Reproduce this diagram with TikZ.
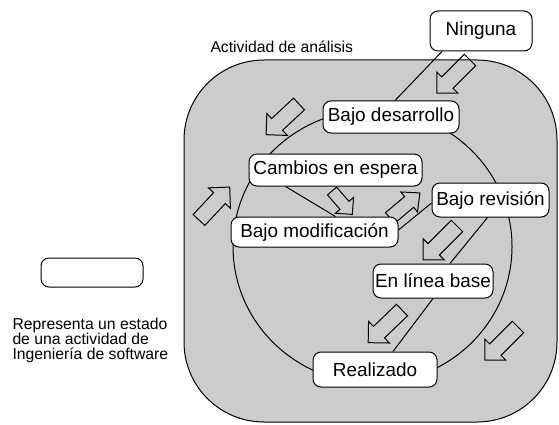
\documentclass[tikz,border=0pt]{standalone}
\usepackage{fontspec}
\setmainfont{Liberation Sans}
\usetikzlibrary{calc}

\tikzset{every picture/.style={line width=0.75pt}}
\tikzset{estado/.style={draw, fill=white, rounded corners=6pt, inner sep=0.75pt, font=\fontsize{14.2}{17}\selectfont}}
\tikzset{nota/.style={inner sep=0pt, font=\fontsize{11.8}{11.2}\selectfont}}

\begin{document}
\begin{tikzpicture}[x=0.75pt,y=0.75pt,yscale=-1,xscale=1]
        \useasboundingbox (0,0) rectangle (559,424);

        %Rounded Rect [id:actividad]
        \draw [fill={rgb, 255:red, 204; green, 204; blue, 204 } ,fill opacity=1 ] [rounded corners=60pt] (184,60) rectangle (557,422) ;
        %Shape: Ellipse [id:ciclo]
        \draw (372.5,246.6) ellipse (139.5 and 136.6) ;

        %Right Arrow [id:flecha1]
        \draw [shift={(470,60)}, rotate = 135] (0,-8) -- (32,-8) -- (32,-15) -- (47,0) -- (32,15) -- (32,8) -- (0,8) -- cycle ;
        %Right Arrow [id:flecha2]
        \draw [shift={(299,104)}, rotate = 137] (0,-8) -- (30,-8) -- (30,-15) -- (45,0) -- (30,15) -- (30,8) -- (0,8) -- cycle ;
        %Right Arrow [id:flecha3]
        \draw [shift={(199,220)}, rotate = -47] (0,-8) -- (30,-8) -- (30,-15) -- (45,0) -- (30,15) -- (30,8) -- (0,8) -- cycle ;
        %Right Arrow [id:flecha4]
        \draw [shift={(332,191)}, rotate = 49] (0,-6) -- (19,-6) -- (19,-12) -- (31,0) -- (19,12) -- (19,6) -- (0,6) -- cycle ;
        %Right Arrow [id:flecha5]
        \draw [shift={(390,218)}, rotate = -40] (0,-7) -- (25,-7) -- (25,-13) -- (39,0) -- (25,13) -- (25,7) -- (0,7) -- cycle ;
        %Right Arrow [id:flecha6]
        \draw [shift={(457,226)}, rotate = 135] (0,-8) -- (33,-8) -- (33,-15) -- (48,0) -- (33,15) -- (33,8) -- (0,8) -- cycle ;
        %Right Arrow [id:flecha7]
        \draw [shift={(402,310)}, rotate = 136] (0,-8) -- (32,-8) -- (32,-15) -- (47,0) -- (32,15) -- (32,8) -- (0,8) -- cycle ;
        %Right Arrow [id:flecha8]
        \draw [shift={(518,327)}, rotate = 135] (0,-8) -- (32,-8) -- (32,-15) -- (47,0) -- (32,15) -- (32,8) -- (0,8) -- cycle ;

        % Text Node
        \node [estado, minimum width=76.5pt, minimum height=30pt] (ninguna) at (481,31) {Ninguna};
        % Text Node
        \node [estado, minimum width=102pt, minimum height=24pt] (desarrollo) at (391,117) {Bajo desarrollo};
        % Text Node
        \node [estado, minimum width=129.75pt, minimum height=24pt] (espera) at (335.5,170) {Cambios en espera};
        % Text Node
        \node [estado, minimum width=125.25pt, minimum height=22.5pt] (modificacion) at (314.5,232) {Bajo modificación};
        % Text Node
        \node [estado, minimum width=87.75pt, minimum height=25.5pt] (revision) at (490.5,200) {Bajo revisión};
        % Text Node
        \node [estado, minimum width=90pt, minimum height=25.5pt] (base) at (433,281) {En línea base};
        % Text Node
        \node [estado, minimum width=93pt, minimum height=26.25pt] (realizado) at (375,369.5) {Realizado};

        %Straight Lines
        \draw ($(ninguna.south)+(-39,0)$) -- ($(desarrollo.north)+(4,0)$) ;
        \draw ($(espera.south)+(-50,0)$) -- ($(modificacion.north)+(21,0)$) ;
        \draw ($(modificacion.east)+(0,-2)$) -- ($(revision.west)+(0,3)$) ;
        \draw ($(revision.south)+(-3,0)$) -- ($(base.north)+(17,0)$) ;
        \draw (base.south) -- ($(realizado.north)+(18,0)$) ;

        % Text Node
        \node [nota, anchor=base west] (actividad) at (210,52.5) {Actividad de análisis};
        % Text Node
        \node [estado, minimum width=76.5pt, minimum height=21.75pt] (muestra) at (92,272.5) {};
        % Text Node
        \node [nota, anchor=north west, align=left] (leyenda) at (12,318) {Representa un estado\\de una actividad de\\Ingeniería de software};

\end{tikzpicture}
\end{document}
